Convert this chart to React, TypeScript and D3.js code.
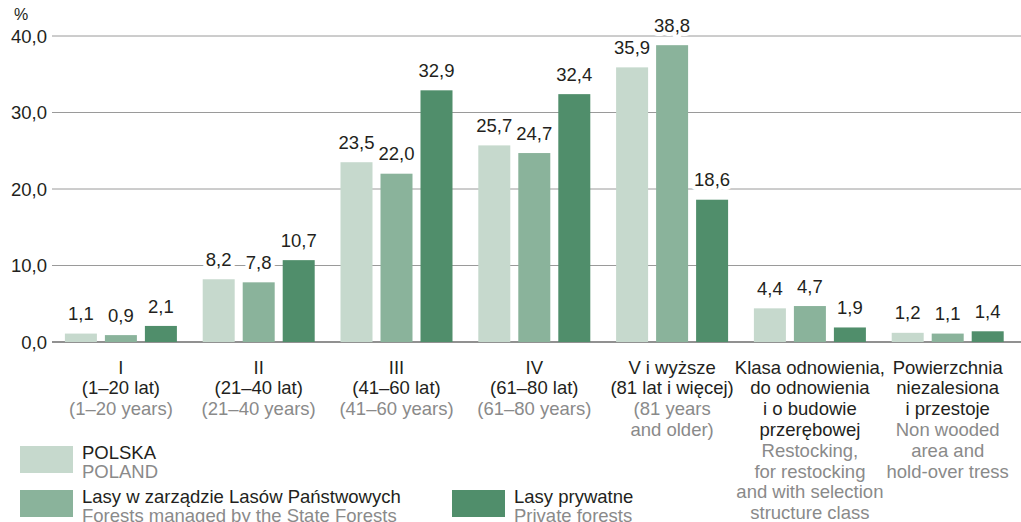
import React from 'react'
import * as d3 from 'd3'

const width = 1021;
const height = 522;
const margin = { top: 36, right: 4, bottom: 180, left: 52 };

// data
const categories = ['I', 'II', 'III', 'IV', 'V', 'KL', 'PN'];
const polska = [1.1, 8.2, 23.5, 25.7, 35.9, 4.4, 1.2];
const lasyPanstwowe = [0.9, 7.8, 22.0, 24.7, 38.8, 4.7, 1.1];
const lasyPrywatne = [2.1, 10.7, 32.9, 32.4, 18.6, 1.9, 1.4];
const yTicks = [0, 10, 20, 30, 40];

const labelsPl = [
  ['I', '(1–20 lat)'],
  ['II', '(21–40 lat)'],
  ['III', '(41–60 lat)'],
  ['IV', '(61–80 lat)'],
  ['V i wyższe', '(81 lat i więcej)'],
  ['Klasa odnowienia,', 'do odnowienia', 'i o budowie', 'przerębowej'],
  ['Powierzchnia', 'niezalesiona', 'i przestoje'],
];
const labelsEn = [
  ['(1–20 years)'],
  ['(21–40 years)'],
  ['(41–60 years)'],
  ['(61–80 years)'],
  ['(81 years', 'and older)'],
  ['Restocking,', 'for restocking', 'and with selection', 'structure class'],
  ['Non wooded', 'area and', 'hold-over tress'],
];

const series = [
  { key: 'pl', values: polska, color: '#c6d9cd', pl: 'POLSKA', en: 'POLAND' },
  { key: 'lp', values: lasyPanstwowe, color: '#8ab39b', pl: 'Lasy w zarządzie Lasów Państwowych', en: 'Forests managed by the State Forests' },
  { key: 'pr', values: lasyPrywatne, color: '#508e6b', pl: 'Lasy prywatne', en: 'Private forests' },
];

const fmt = d3.formatLocale({ decimal: ',', thousands: ' ', grouping: [3], currency: ['', ''] }).format('.1f');

const font = "'Liberation Sans', Arial, sans-serif";
const fs = 18.5;
const dark = '#231f20';
const grey = '#8a8a8a';

export default function App() {
  const x = d3.scaleBand().domain(categories).range([margin.left, 1016.6]).paddingInner(0).paddingOuter(0);
  const y = d3.scaleLinear().domain([0, 40]).range([height - margin.bottom, margin.top]);
  const inner = d3.scaleBand().domain(series.map(s => s.key)).range([0, 112]).paddingInner(0.2);
  const barW = 32;
  const lineH = 20.8;

  const legend = [
    { s: series[0], x: 20, y: 446 },
    { s: series[1], x: 20, y: 490 },
    { s: series[2], x: 452, y: 490 },
  ];

  return (
    <svg width={width} height={height} style={{ position: 'absolute', left: 0, top: 0, fontFamily: font }}>
      {/* grid */}
      {yTicks.map(t => (
        <g key={t}>
          <line x1={margin.left} x2={width} y1={y(t)} y2={y(t)}
            stroke={t === 0 ? '#6d6d6d' : '#9a9a9a'} strokeWidth={t === 0 ? 1.6 : 1} />
          <text x={47} y={y(t)} dy="0.36em" textAnchor="end" fontSize={fs} fill={dark}>{fmt(t)}</text>
        </g>
      ))}
      <text x={21} y={14} dy="0.36em" textAnchor="middle" fontSize={16} fill={dark}>%</text>

      {/* bars */}
      {categories.map((c, i) => {
        const gx = x(c)! + (x.bandwidth() - 112) / 2;
        return (
          <g key={c}>
            {series.map(s => {
              const bx = gx + inner(s.key)!;
              const v = s.values[i];
              return (
                <g key={s.key}>
                  <rect x={bx} y={y(v)} width={barW} height={y(0) - y(v)} fill={s.color} />
                  <text x={bx + barW / 2} y={y(v) - 20} dy="0.36em" textAnchor="middle" fontSize={fs} fill={dark}
                    stroke="#fff" strokeWidth={8} paintOrder="stroke" strokeLinejoin="round">{fmt(v)}</text>
                </g>
              );
            })}
            {labelsPl[i].map((l, j) => (
              <text key={'p' + j} x={x(c)! + x.bandwidth() / 2} y={367 + j * lineH} dy="0.36em"
                textAnchor="middle" fontSize={fs} fill={dark}>{l}</text>
            ))}
            {labelsEn[i].map((l, j) => (
              <text key={'e' + j} x={x(c)! + x.bandwidth() / 2} y={367 + (labelsPl[i].length + j) * lineH} dy="0.36em"
                textAnchor="middle" fontSize={fs} fill={grey}>{l}</text>
            ))}
          </g>
        );
      })}

      {/* legend */}
      {legend.map(({ s, x: lx, y: ly }) => (
        <g key={s.key}>
          <rect x={lx} y={ly} width={53} height={27} fill={s.color} />
          <text x={lx + 62} y={ly + 6} dy="0.36em" fontSize={fs} fill={dark}>{s.pl}</text>
          <text x={lx + 62} y={ly + 25} dy="0.36em" fontSize={fs} fill={grey}>{s.en}</text>
        </g>
      ))}
    </svg>
  );
}
